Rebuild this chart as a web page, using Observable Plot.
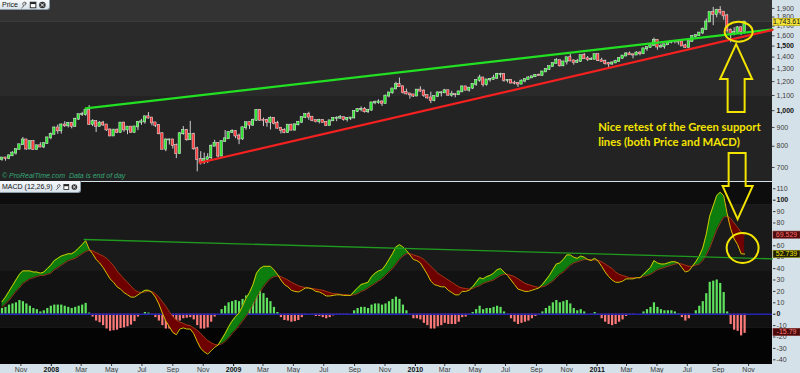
<!DOCTYPE html>
<html>
<head>
<meta charset="utf-8">
<script src="https://cdn.jsdelivr.net/npm/d3@7"></script>
<script src="https://cdn.jsdelivr.net/npm/@observablehq/plot@0.6"></script>
<style>
  html,body{margin:0;padding:0;background:#d5e1e9;}
  #wrap{position:relative;width:800px;height:373px;overflow:hidden;background:#d5e1e9;font-family:"Liberation Sans",Arial,sans-serif;}
  #price,#macd{position:absolute;left:0;}
  #price{top:0;} #macd{top:182px;}
  .hdr{position:absolute;left:0;display:flex;align-items:center;gap:2px;box-sizing:border-box;padding:0 2px;background:linear-gradient(#f7fafc,#d8e2e9);border-right:1px solid #8a9aa6;border-bottom:1px solid #8a9aa6;border-radius:0 0 3px 0;font-size:7px;color:#111;z-index:3;white-space:nowrap;}
  #mark{position:absolute;left:2px;top:172px;font-size:7px;font-style:italic;color:#35a878;white-space:pre;z-index:3;}
  #overlay{position:absolute;left:0;top:0;z-index:4;pointer-events:none;}
</style>
</head>
<body>
<div id="wrap">
  <div id="price"></div>
  <div id="macd"></div>
  <div class="hdr" style="top:0;height:10px;width:50px;"><span>Price</span>
    <svg width="29" height="8" viewBox="0 0 29 8"><path d="M1.5 7.5 L5 4 M4.2 4.8 a2 2 0 1 1 2.6 -2.6 l-1.2 0.2 l-0.3 1 l1 0.4" stroke="#555" fill="none" stroke-width="1"/><rect x="11" y="1" width="6" height="6" fill="#fff" stroke="#222" stroke-width="1"/><rect x="11" y="1" width="6" height="2" fill="#222"/><circle cx="24" cy="4" r="3.5" fill="#333"/><path d="M22.3 2.3 L25.7 5.7 M25.7 2.3 L22.3 5.7" stroke="#fff" stroke-width="1"/></svg></div>
  <div class="hdr" style="top:181px;height:12px;width:81px;"><span>MACD (12,26,9)</span>
    <svg width="29" height="8" viewBox="0 0 29 8"><path d="M1.5 7.5 L5 4 M4.2 4.8 a2 2 0 1 1 2.6 -2.6 l-1.2 0.2 l-0.3 1 l1 0.4" stroke="#555" fill="none" stroke-width="1"/><rect x="11" y="1" width="6" height="6" fill="#fff" stroke="#222" stroke-width="1"/><rect x="11" y="1" width="6" height="2" fill="#222"/><circle cx="24" cy="4" r="3.5" fill="#333"/><path d="M22.3 2.3 L25.7 5.7 M25.7 2.3 L22.3 5.7" stroke="#fff" stroke-width="1"/></svg></div>
  <div id="mark">© ProRealTime.com  Data is end of day</div>
  <svg id="overlay" width="800" height="373"></svg>
</div>
<script>
// ---------- DATA (weekly candles, Monday of each week) ----------
const weekStart = "2007-09-24";
const firstOpen = 735;
const close = [
 743,740,753,766,784,807,832,786,823,783,
 802,796,813,843,862,897,881,914,909,924,
 906,948,975,975,1001,918,933,905,925,914,
 886,853,885,872,925,886,902,872,903,930,
 932,962,955,926,912,865,785,832,832,803,
 763,865,883,833,860,787,735,723,737,744,
 800,815,752,823,838,872,878,853,837,898,
 927,913,941,1002,942,940,929,953,923,896,
 884,871,913,885,915,930,958,977,960,939,
 933,941,929,911,938,953,954,957,945,953,
 955,995,1006,1009,993,1003,1050,1051,1056,1045,
 1096,1118,1146,1177,1162,1120,1111,1104,1096,1138,
 1131,1099,1083,1065,1093,1118,1118,1133,1102,1106,
 1105,1125,1161,1137,1152,1180,1209,1228,1177,1213,
 1218,1226,1256,1256,1208,1210,1189,1188,1181,1204,
 1216,1228,1237,1248,1246,1275,1297,1318,1345,1369,
 1325,1358,1394,1366,1353,1361,1413,1385,1378,1380,
 1421,1368,1361,1343,1340,1349,1360,1388,1409,1428,
 1420,1418,1436,1429,1474,1486,1504,1556,1491,1494,
 1512,1536,1542,1541,1539,1501,1486,1542,1594,1601,
 1628,1663,1745,1852,1829,1877,1856,1813,1657,1624,
 1636,1682,1642,1744];
const high = [
 745,746,757,773,785,809,845,835,827,829,
 806,818,815,845,869,902,914,920,933,929,
 929,953,976,990,1005,1032,945,937,934,935,
 917,890,889,891,928,930,905,904,905,931,
 947,966,988,957,927,914,869,838,837,836,
 811,872,905,889,935,868,795,773,766,763,
 806,830,816,826,883,874,887,881,863,903,
 929,931,949,1007,1006,954,948,962,956,935,
 899,893,916,918,920,934,962,980,990,963,
 943,947,945,932,941,957,962,970,959,956,
 957,999,1012,1024,1020,1008,1051,1062,1070,1064,
 1102,1119,1150,1195,1227,1166,1145,1112,1107,1142,
 1162,1140,1101,1123,1095,1125,1127,1143,1136,1129,
 1108,1130,1166,1164,1157,1184,1211,1249,1229,1216,
 1223,1249,1264,1265,1262,1216,1214,1203,1192,1212,
 1217,1238,1241,1254,1259,1278,1301,1320,1349,1387,
 1370,1360,1398,1424,1376,1380,1415,1432,1405,1395,
 1424,1424,1390,1374,1352,1357,1372,1390,1415,1440,
 1445,1428,1448,1448,1476,1491,1509,1577,1558,1520,
 1516,1539,1550,1548,1549,1556,1517,1545,1597,1611,
 1633,1681,1778,1853,1912,1890,1921,1862,1831,1670,
 1683,1695,1690,1747];
const low = [
 728,728,735,750,757,782,806,780,782,780,
 780,792,788,811,833,859,862,863,900,897,
 892,901,940,964,966,911,905,872,904,906,
 878,850,852,866,868,873,860,867,868,882,
 912,919,948,909,899,859,782,773,806,786,
 740,760,857,825,830,780,681,711,713,718,
 730,797,742,748,820,838,866,839,808,830,
 884,889,906,937,934,905,901,886,914,890,
 864,865,867,881,879,909,922,951,941,933,
 926,920,926,905,909,935,933,948,936,931,
 940,950,988,993,985,982,998,1038,1041,1027,
 1042,1084,1110,1140,1158,1110,1104,1075,1086,1092,
 1121,1087,1075,1045,1057,1085,1090,1116,1096,1088,
 1084,1101,1123,1133,1124,1142,1165,1195,1160,1166,
 1196,1211,1217,1228,1195,1190,1184,1176,1157,1180,
 1191,1214,1224,1231,1239,1244,1273,1286,1316,1340,
 1315,1318,1332,1360,1331,1345,1354,1380,1361,1370,
 1378,1363,1358,1332,1309,1329,1345,1358,1385,1405,
 1415,1384,1416,1411,1428,1451,1479,1501,1462,1481,
 1472,1507,1521,1521,1509,1495,1478,1481,1540,1575,
 1594,1612,1657,1741,1705,1792,1823,1764,1627,1532,
 1600,1630,1603,1618];
const macdLine = [
 11,15,20,25,30,35,38,38,38,37,
 37,36,37,40,43,47,49,51,52,53,
 53,55,58,61,64.5,57,53,48,45,41,
 36,31,28,24,22,19,17,15,15,17,
 19,21,21,19,15,9,1,-6,-11,-16,
 -18,-13,-12,-13,-13,-17,-24,-30,-33,-35,
 -32,-29,-27,-22,-17,-11,-6,-2,1,7,
 14,19,26,36,40,42,42,42,39,35,
 30,26,24,21,20,19.5,21,23,23,22,
 20,19.5,18,16,16,16.5,17,17,16.5,16.5,
 16.5,20,23,26,27,28,33,36,38,39,
 43,48,53,59,61,59,56,52,48,47,
 45,40,35,29,26,25,24,24,21,19,
 17,17,20,20,21,24,28,32,31,33,
 34,36,39,40,37,34,30,26,22,21,
 20,20,21,22,23,26,30,34,39,44,
 45,48,52,52,50,49,51,50,48,47,
 49,46.5,42,37,33,30,28,28,29,31,
 31,31,32,32,35,38,41,47,45,44,
 44,45,46,46,45,41,37,38,42,46,
 51,58,70,86,95,104,107,104,88,75,
 66,61,53,52.739];
const signalLine = [
 6,9,12,16,20,23,27,29,31,32,
 33,34,34,35,36,39,41,43,45,47,
 48,49,51,53,55,56,55.5,54,52.5,51,
 49,46,42.5,38,34.5,31,28,24.5,21.5,19.5,
 19,19.5,20,20,18,15,11,7,2,-2,
 -5,-7,-8,-9.5,-10,-12,-14,-17,-20,-23,
 -25,-26.5,-27,-26,-24,-21,-17,-14,-10,-6,
 -2,3,8,14,19.5,24,28,31,33,33.5,
 33,31.5,30,28,26.5,25,24,23.5,23,22.5,
 22,21.5,21,20,19,18,18,17.5,17,17,
 16.5,17,18,20,21,23,25,27,29,31,
 34,37,40,44,48,51,53,53,52,51,
 50,48,45,42,39,36,34,32,30,28,
 26,24,23,22.5,22,22.5,24,25,27,28,
 29,30,32,34,35,35,34,33,31,29,
 27,26,25,24,23.5,24,25,27,29,32,
 35,37,40,43,45,46,47,48,48,47.8,
 47.5,47.3,46,44,42,40,37,35,34,33,
 32,32,32,32,33,34,35,37,39,40,
 41,42,43,44,44.5,44,43,42,42,43,
 44,47,52,58,66,74,80,85,86,84,
 80,76,72,69.529];

const priceTicks = [700,800,900,1000,1100,1200,1300,1400,1500,1600,1700,1800,1900];
const priceTicksBold = [1000,1500];
const macdTicks = [-40,-30,-20,-10,0,10,20,30,40,50,60,70,80,90,100,110];
const macdTicksBold = [0,100];
const monthTicks = ["2007-11-01","2008-03-01","2008-05-01","2008-07-01","2008-09-01","2008-11-01",
  "2009-03-01","2009-05-01","2009-07-01","2009-09-01","2009-11-01",
  "2010-03-01","2010-05-01","2010-07-01","2010-09-01","2010-11-01",
  "2011-03-01","2011-05-01","2011-07-01","2011-09-01","2011-11-01"];
const yearTicks = ["2008-01-01","2009-01-01","2010-01-01","2011-01-01"];

const greenTrend = [{date:"2008-03-10", value:1014}, {date:"2011-12-19", value:1665}];
const redTrend   = [{date:"2008-10-25", value:721},  {date:"2011-12-19", value:1660}];
const macdTrend  = [{date:"2008-03-07", value:65.5}, {date:"2011-12-19", value:48.6}];

const lastPrice = [1743.61];
const signalTag = [69.529];
const macdTag = [52.739];
const histTag = [-15.79];

const noteLines = ["Nice retest of the Green support", "lines (both Price and MACD)"];
const noteAnchor = {date:"2011-01-04", price:879};
const upCircle = {date:"2011-10-13", price:1637};
const upArrow = {date:"2011-10-08", price:1514};
const downArrow = {date:"2011-10-11", value:83};
const downCircle = {date:"2011-10-21", value:57.6};

// ---------- BUILD ----------
const xDomain = [new Date("2007-09-21"), new Date("2011-12-19")];
const t0 = new Date(weekStart);
const rows = close.map((c, i) => ({
  date: d3.utcDay.offset(t0, 7 * i),
  open: i ? close[i - 1] : firstOpen,
  close: c, high: high[i], low: low[i],
  macd: macdLine[i], signal: signalLine[i]
}));
const toDate = a => a.map(d => ({...d, date: new Date(d.date)}));
const fmtNum = d => String(d);
const fmtPrice = d3.format(",");
const fmtTagPrice = d3.format(",.2f");
const baseStyle = {background: "transparent", fontFamily: "'Liberation Sans', Arial, sans-serif", fontSize: "7px", overflow: "visible"};
const tickEnd = d3.utcDay.offset(xDomain[1], 5);
const tagOpts = {frameAnchor:"right", dx:14, textAnchor:"middle", fontSize:7};

const pricePlot = Plot.plot({
  width: 800, height: 181,
  marginTop: 0, marginBottom: 0, marginLeft: 0, marginRight: 28,
  style: baseStyle,
  x: {type: "utc", domain: xDomain, axis: null},
  y: {type: "log", domain: [641, 1997], axis: null},
  color: {type: "identity"},
  marks: [
    Plot.rect([{a:1740,b:1997,f:"#333333"},{a:1093,b:1740,f:"#2a2a2a"},{a:641,b:1093,f:"#232323"}], {y1:"a", y2:"b", fill:"f"}),
    Plot.ruleY(priceTicks, {x1: xDomain[1], x2: tickEnd, stroke:"#444", strokeWidth:1}),
    Plot.text(priceTicks.filter(t => !priceTicksBold.includes(t)), {y: d => d, text: fmtPrice, frameAnchor:"right", dx:4, textAnchor:"start", fill:"#3a3a3a", fontSize:7}),
    Plot.text(priceTicksBold, {y: d => d, text: fmtPrice, frameAnchor:"right", dx:4, textAnchor:"start", fill:"#111", fontWeight:"bold", fontSize:7}),
    Plot.ruleX(rows, {x:"date", y1:"low", y2:"high", stroke:"#cfcfcf", strokeWidth:1}),
    Plot.rect(rows, {x1: d => d3.utcHour.offset(d.date, -58), x2: d => d3.utcHour.offset(d.date, 58),
      y1:"open", y2:"close", fill: d => d.close >= d.open ? "#2fe62f" : "#ff3a3a",
      stroke:"#e8e8e8", strokeWidth:0.5, insetTop:-0.5, insetBottom:-0.5}),
    Plot.line(toDate(greenTrend), {x:"date", y:"value", stroke:"#22e022", strokeWidth:2.2}),
    Plot.line(toDate(redTrend), {x:"date", y:"value", stroke:"#f52020", strokeWidth:2.2}),
    Plot.text(lastPrice, {...tagOpts, y: d => d, text: d => fmtTagPrice(d), fill:"#111"})
  ]
});

const macdPlot = Plot.plot({
  width: 800, height: 191,
  marginTop: 0, marginBottom: 9, marginLeft: 0, marginRight: 28,
  style: baseStyle,
  x: {type: "utc", domain: xDomain, axis: null},
  y: {domain: [-44.1, 115.5], axis: null},
  color: {type: "identity"},
  marks: [
    Plot.rect([{a:95.4,b:115.5,f:"#0d0d0d"},{a:38.3,b:95.4,f:"#1a1a1a"},{a:-12.5,b:38.3,f:"#121212"},{a:-44.1,b:-12.5,f:"#040404"}], {y1:"a", y2:"b", fill:"f"}),
    Plot.axisY(macdTicks.filter(t => !macdTicksBold.includes(t)), {anchor:"right", tickSize:2.5, tickPadding:1.5, tickFormat:fmtNum, color:"#3a3a3a", fontSize:7}),
    Plot.axisY(macdTicksBold, {anchor:"right", tickSize:2.5, tickPadding:1.5, tickFormat:fmtNum, color:"#111", fontWeight:"bold", fontSize:7}),
    Plot.axisX(monthTicks.map(d => new Date(d)), {anchor:"bottom", tickSize:2, tickPadding:0.5, tickFormat:d3.utcFormat("%b"), color:"#3a3a3a", fontSize:7}),
    Plot.axisX(yearTicks.map(d => new Date(d)), {anchor:"bottom", tickSize:2, tickPadding:0.5, tickFormat:d3.utcFormat("%Y"), color:"#111", fontWeight:"bold", fontSize:7}),
    Plot.ruleX(rows, {x:"date", y1:0, y2: d => d.macd - d.signal, stroke: d => d.macd >= d.signal ? "#5fe35f" : "#ff7b7b", strokeWidth:2.2}),
    Plot.ruleY([0], {stroke:"#2424b0", strokeWidth:1.5}),
    Plot.areaY(rows, {x:"date", y1:"signal", y2: d => Math.max(d.macd, d.signal), fill:"#0d7d0d"}),
    Plot.areaY(rows, {x:"date", y1: d => Math.min(d.macd, d.signal), y2:"signal", fill:"#6e0000"}),
    Plot.line(rows, {x:"date", y:"signal", stroke:"#b3461a", strokeWidth:0.8}),
    Plot.line(rows, {x:"date", y:"macd", stroke:"#d6c200", strokeWidth:1}),
    Plot.line(toDate(macdTrend), {x:"date", y:"value", stroke:"#1f9a1f", strokeWidth:1.3}),
    Plot.text(signalTag, {...tagOpts, y: d => d, text: d => String(d), fill:"#ff6a6a"}),
    Plot.text(macdTag, {...tagOpts, y: d => d, text: d => String(d), fill:"#f2e200"}),
    Plot.text(histTag, {...tagOpts, y: d => d, text: d => String(d), fill:"#ff7a7a"})
  ]
});

document.getElementById("price").append(pricePlot);
document.getElementById("macd").append(macdPlot);

// opaque value tags in the right axis strip, drawn just beneath their own text
function boxTag(svg, str, bg, border) {
  const s = svg.getBoundingClientRect();
  svg.querySelectorAll("text").forEach(t => {
    if (t.textContent !== str) return;
    const r = t.getBoundingClientRect();
    const g = t.parentNode;
    const rect = document.createElementNS("http://www.w3.org/2000/svg", "rect");
    rect.setAttribute("x", 773);
    rect.setAttribute("y", r.top - s.top);
    rect.setAttribute("width", 27);
    rect.setAttribute("height", Math.max(7, r.height - 0.5));
    rect.setAttribute("fill", bg);
    if (border) { rect.setAttribute("stroke", border); rect.setAttribute("stroke-width", 0.7); }
    g.parentNode.insertBefore(rect, g);
  });
}
boxTag(pricePlot, fmtTagPrice(lastPrice[0]), "#f5e63c", "#b8a800");
boxTag(macdPlot, String(signalTag[0]), "#4a0b0b", "#7a2020");
boxTag(macdPlot, String(macdTag[0]), "#1e1e08", "#8a8000");
boxTag(macdPlot, String(histTag[0]), "#4a0b0b", "#7a2020");

// ---------- ANNOTATIONS ----------
function scaleFn(plot, name, fallback) {
  try { const s = plot.scale(name); if (s && s.apply) return v => s.apply(v); } catch (e) {}
  return fallback;
}
const X = scaleFn(pricePlot, "x", d3.scaleUtc(xDomain, [0, 772]));
const PY = scaleFn(pricePlot, "y", d3.scaleLog([641, 1997], [181, 0]));
const MYr = scaleFn(macdPlot, "y", d3.scaleLinear([-44.1, 115.5], [182, 0]));
const MY = v => MYr(v) + 182;
const xd = d => X(new Date(d));
const Y = "#f3e400";
const ov = d3.select("#overlay");

ov.selectAll("text.note").data(noteLines).join("text").attr("class","note")
  .attr("x", xd(noteAnchor.date)).attr("y", (d, i) => PY(noteAnchor.price) + i * 15)
  .attr("fill", Y).attr("font-family", "Lato, 'Open Sans', sans-serif").attr("font-weight", 700).attr("font-size", 11.3)
  .text(d => d);

ov.append("ellipse").attr("cx", xd(upCircle.date)).attr("cy", PY(upCircle.price)).attr("rx", 14).attr("ry", 10)
  .attr("fill", "none").attr("stroke", Y).attr("stroke-width", 2);
ov.append("ellipse").attr("cx", xd(downCircle.date)).attr("cy", MY(downCircle.value)).attr("rx", 16).attr("ry", 15)
  .attr("fill", "none").attr("stroke", Y).attr("stroke-width", 2);

const upShape = [[0,0],[16,35],[8.5,35],[8.5,68],[-8.5,68],[-8.5,35],[-16,35]];
const ux = xd(upArrow.date), uy = PY(upArrow.price);
ov.append("polygon").attr("points", upShape.map(([a, b]) => `${ux + a},${uy + b}`).join(" "))
  .attr("fill", "none").attr("stroke", Y).attr("stroke-width", 2);
const downShape = [[-9,-66],[8,-66],[8,-33],[15,-33],[0,0],[-15,-33],[-9,-33]];
const dxp = xd(downArrow.date), dyp = MY(downArrow.value);
ov.append("polygon").attr("points", downShape.map(([a, b]) => `${dxp + a},${dyp + b}`).join(" "))
  .attr("fill", "none").attr("stroke", Y).attr("stroke-width", 2);
</script>
</body>
</html>
